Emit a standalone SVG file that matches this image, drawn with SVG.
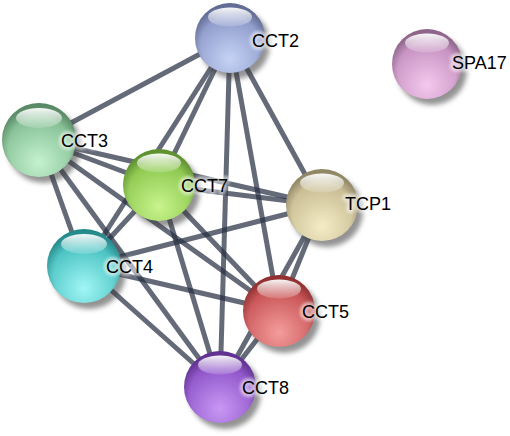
<svg xmlns="http://www.w3.org/2000/svg" width="510" height="436" viewBox="0 0 510 436">
<style>
.edge{stroke:#283044;stroke-opacity:0.72;stroke-width:5;stroke-linecap:butt}
.shadow{fill:#3a3a3a;opacity:0.55;filter:url(#blur)}
.hl{fill:url(#hlg)}
.rim{fill:url(#rimg)}
.lbl{font-family:"Liberation Sans",Arial,sans-serif;font-size:18px;fill:#000}
.halo{font-family:"Liberation Sans",Arial,sans-serif;font-size:18px;fill:#fff;stroke:#fff;stroke-width:6;stroke-linejoin:round;opacity:0.55;filter:url(#hblur)}
</style>
<defs>
<filter id="blur" x="-30%" y="-30%" width="160%" height="160%"><feGaussianBlur stdDeviation="2.5"/></filter>
<filter id="hblur" x="-30%" y="-50%" width="160%" height="200%"><feGaussianBlur stdDeviation="1.5"/></filter>
<linearGradient id="hlg" x1="0" y1="0" x2="0" y2="1">
<stop offset="0" stop-color="#fff" stop-opacity="0.95"/>
<stop offset="1" stop-color="#fff" stop-opacity="0.15"/>
</linearGradient>
<radialGradient id="rimg" cx="0.5" cy="0.6" r="0.55">
<stop offset="0.75" stop-color="#000" stop-opacity="0"/>
<stop offset="1" stop-color="#000" stop-opacity="0.22"/>
</radialGradient>
<radialGradient id="g2" cx="0.5" cy="0.8" r="0.8"><stop offset="0" stop-color="#c6d2f4"/><stop offset="1" stop-color="#7a88bc"/></radialGradient>
<radialGradient id="gs" cx="0.5" cy="0.8" r="0.8"><stop offset="0" stop-color="#f4c8ee"/><stop offset="1" stop-color="#b57eb0"/></radialGradient>
<radialGradient id="g3" cx="0.5" cy="0.8" r="0.8"><stop offset="0" stop-color="#c4f2cf"/><stop offset="1" stop-color="#6fae80"/></radialGradient>
<radialGradient id="g7" cx="0.5" cy="0.8" r="0.8"><stop offset="0" stop-color="#c8f48c"/><stop offset="1" stop-color="#78b83a"/></radialGradient>
<radialGradient id="gt" cx="0.5" cy="0.8" r="0.8"><stop offset="0" stop-color="#f4ecc6"/><stop offset="1" stop-color="#b8ab80"/></radialGradient>
<radialGradient id="g4" cx="0.5" cy="0.8" r="0.8"><stop offset="0" stop-color="#a0f6f4"/><stop offset="1" stop-color="#2aaeb0"/></radialGradient>
<radialGradient id="g5" cx="0.5" cy="0.8" r="0.8"><stop offset="0" stop-color="#f49c9c"/><stop offset="1" stop-color="#b83a3c"/></radialGradient>
<radialGradient id="g8" cx="0.5" cy="0.8" r="0.8"><stop offset="0" stop-color="#c898f4"/><stop offset="1" stop-color="#7a3cba"/></radialGradient>
</defs>
<rect width="510" height="436" fill="#fff"/>
<g id="edges">
<line class="edge" x1="230" y1="38" x2="39" y2="140"/>
<line class="edge" x1="230" y1="38" x2="159" y2="185"/>
<line class="edge" x1="230" y1="38" x2="322" y2="205"/>
<line class="edge" x1="230" y1="38" x2="84" y2="266"/>
<line class="edge" x1="230" y1="38" x2="279" y2="311"/>
<line class="edge" x1="230" y1="38" x2="220" y2="387"/>
<line class="edge" x1="39" y1="140" x2="159" y2="185"/>
<line class="edge" x1="39" y1="140" x2="322" y2="205"/>
<line class="edge" x1="39" y1="140" x2="84" y2="266"/>
<line class="edge" x1="39" y1="140" x2="279" y2="311"/>
<line class="edge" x1="39" y1="140" x2="220" y2="387"/>
<line class="edge" x1="159" y1="185" x2="322" y2="205"/>
<line class="edge" x1="159" y1="185" x2="84" y2="266"/>
<line class="edge" x1="159" y1="185" x2="279" y2="311"/>
<line class="edge" x1="159" y1="185" x2="220" y2="387"/>
<line class="edge" x1="322" y1="205" x2="84" y2="266"/>
<line class="edge" x1="322" y1="205" x2="279" y2="311"/>
<line class="edge" x1="322" y1="205" x2="220" y2="387"/>
<line class="edge" x1="84" y1="266" x2="279" y2="311"/>
<line class="edge" x1="84" y1="266" x2="220" y2="387"/>
<line class="edge" x1="279" y1="311" x2="220" y2="387"/>
</g>
<g id="CCT2" transform="translate(230,38)">
<circle class="shadow" cx="5" cy="6" r="35"/>
<circle r="35" fill="url(#g2)"/><circle r="35" class="rim"/>
<ellipse class="hl" cx="0" cy="-21" rx="22" ry="9.5"/>
<text class="halo" x="22" y="9">CCT2</text><text class="lbl" x="22" y="9">CCT2</text>
</g>
<g id="SPA17" transform="translate(427,64)">
<circle class="shadow" cx="5" cy="6" r="35"/>
<circle r="35" fill="url(#gs)"/><circle r="35" class="rim"/>
<ellipse class="hl" cx="0" cy="-21" rx="22" ry="9.5"/>
<text class="halo" x="25" y="5">SPA17</text><text class="lbl" x="25" y="5">SPA17</text>
</g>
<g id="CCT3" transform="translate(39,140)">
<circle class="shadow" cx="5" cy="6" r="37"/>
<circle r="37" fill="url(#g3)"/><circle r="37" class="rim"/>
<ellipse class="hl" cx="0" cy="-22" rx="23" ry="10"/>
<text class="halo" x="22" y="7">CCT3</text><text class="lbl" x="22" y="7">CCT3</text>
</g>
<g id="CCT7" transform="translate(159,185)">
<circle class="shadow" cx="5" cy="6" r="36"/>
<circle r="36" fill="url(#g7)"/><circle r="36" class="rim"/>
<ellipse class="hl" cx="0" cy="-22" rx="22" ry="9.5"/>
<text class="halo" x="22" y="7">CCT7</text><text class="lbl" x="22" y="7">CCT7</text>
</g>
<g id="TCP1" transform="translate(322,205)">
<circle class="shadow" cx="5" cy="6" r="36"/>
<circle r="36" fill="url(#gt)"/><circle r="36" class="rim"/>
<ellipse class="hl" cx="0" cy="-22" rx="22" ry="9.5"/>
<text class="halo" x="23" y="5">TCP1</text><text class="lbl" x="23" y="5">TCP1</text>
</g>
<g id="CCT4" transform="translate(84,266)">
<circle class="shadow" cx="5" cy="6" r="37"/>
<circle r="37" fill="url(#g4)"/><circle r="37" class="rim"/>
<ellipse class="hl" cx="0" cy="-22" rx="23" ry="10"/>
<text class="halo" x="22" y="7">CCT4</text><text class="lbl" x="22" y="7">CCT4</text>
</g>
<g id="CCT5" transform="translate(279,311)">
<circle class="shadow" cx="5" cy="6" r="36"/>
<circle r="36" fill="url(#g5)"/><circle r="36" class="rim"/>
<ellipse class="hl" cx="0" cy="-22" rx="22" ry="9.5"/>
<text class="halo" x="23" y="7">CCT5</text><text class="lbl" x="23" y="7">CCT5</text>
</g>
<g id="CCT8" transform="translate(220,387)">
<circle class="shadow" cx="5" cy="6" r="36"/>
<circle r="36" fill="url(#g8)"/><circle r="36" class="rim"/>
<ellipse class="hl" cx="0" cy="-22" rx="22" ry="9.5"/>
<text class="halo" x="22" y="7">CCT8</text><text class="lbl" x="22" y="7">CCT8</text>
</g>
</svg>
